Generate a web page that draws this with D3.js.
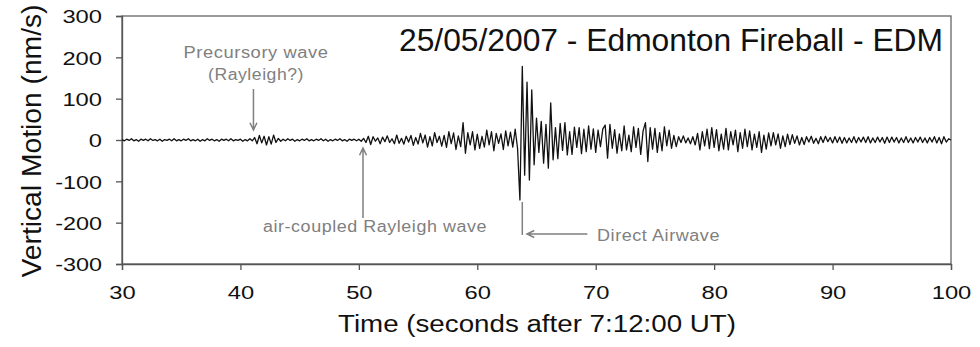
<!DOCTYPE html>
<html>
<head>
<meta charset="utf-8">
<script src="https://cdn.jsdelivr.net/npm/d3@7"></script>
<style>
  body { margin: 0; background: #fff; }
  svg { display: block; font-family: "Liberation Sans", Arial, sans-serif; }
  .note { fill: #808080; font-size: 16px; letter-spacing: 0.5px; }
</style>
</head>
<body>
<div class="chart"></div>
<script>
// seismogram sampled every 0.2 s from 30 s to 100 s (nm/s)
const timeStart = 30;
const timeStep = 0.2;
const motion = [
  1,-2,2,-1,3,-2,1,-3,2,-1,2,-2,3,-1,1,-2,2,-3,1,-1,2,-2,3,-2,1,
  -2,2,-1,3,-2,1,-2,2,-3,1,-2,3,-1,2,-2,1,-3,2,-1,2,-2,3,-2,1,-1,
  2,-3,1,-2,3,-2,6,-9,11,-7,9,-12,8,-10,12,-6,4,-3,2,-2,3,-1,2,-3,1,
  -2,2,-1,3,-2,1,-2,2,-1,3,-2,2,-3,1,-2,2,-1,3,-2,1,-3,2,-1,2,-2,
  2,-3,4,-6,9,-11,8,-3,5,-9,7,-4,10,-6,3,-9,12,-8,4,-10,9,-5,11,-13,6,
  -10,16,-7,12,-17,8,-14,18,-6,9,-15,11,-18,20,-9,17,-23,10,-16,42,-32,18,-12,20,-24,
  14,-20,9,-17,24,-12,20,-26,16,-8,15,-23,22,-14,19,-17,26,-20,-145,178,-85,140,-97,121,-60,
  53,-30,45,-56,38,-68,90,-48,30,-45,40,-25,42,-36,20,-35,31,-18,30,-33,26,-28,34,-22,27,
  -30,24,-16,27,36,-44,38,-20,25,-32,15,-26,34,-24,12,-28,32,-18,28,-35,22,42,-52,30,-22,
  28,-30,18,-26,32,-14,24,-20,11,-16,8,-6,10,-7,5,-9,8,-12,16,-24,20,-14,26,-21,30,
  -18,25,-26,14,-22,28,-24,20,-12,24,-28,18,-20,26,-16,22,-24,14,-18,20,-30,12,-22,17,-14,
  18,-12,15,-20,10,-16,14,-11,13,-8,10,-12,6,-11,8,-5,9,-8,4,-9,8,-6,9,-4,6,
  -7,8,-6,7,-8,6,-7,5,-6,8,-7,6,-5,7,-6,8,-7,5,-6,7,-5,6,-8,7,-6,
  7,-5,6,-7,5,-6,8,-6,5,-7,6,-5,7,-6,5,-7,6,-5,8,-7,6,-9,8,-5,3,
  0
];

const xTicks = [30, 40, 50, 60, 70, 80, 90, 100];
const yTicks = [-300, -200, -100, 0, 100, 200, 300];

const chartTitle = '25/05/2007 - Edmonton Fireball - EDM';
const xTitle = 'Time (seconds after 7:12:00 UT)';
const yTitle = 'Vertical Motion (nm/s)';

const width = 980, height = 347;
const margin = {top: 16, right: 29, bottom: 83, left: 122};

const svg = d3.select('.chart').append('svg')
  .attr('width', width)
  .attr('height', height);

const x = d3.scaleLinear()
  .domain([30, 100])
  .range([margin.left, width - margin.right]);

const y = d3.scaleLinear()
  .domain([-300, 300])
  .range([height - margin.bottom, margin.top]);

const data = motion.map((v, i) => ({t: timeStart + i * timeStep, v: v}));

// frame
svg.append('rect')
  .attr('x', x(30)).attr('y', y(300))
  .attr('width', x(100) - x(30)).attr('height', y(-300) - y(300))
  .attr('fill', 'none').attr('stroke', '#666').attr('stroke-width', 1.3);

// wide tick labels like the original picture
const labelLen = s => s.length * 13.2 - (s[0] === '-' ? 6 : 0);

const xAxis = svg.append('g')
  .attr('transform', `translate(0,${y(-300)})`)
  .call(d3.axisBottom(x).tickValues(xTicks).tickSize(6).tickPadding(16).tickFormat(d => String(d)));

const yAxis = svg.append('g')
  .attr('transform', `translate(${x(30)},0)`)
  .call(d3.axisLeft(y).tickValues(yTicks).tickSize(6).tickPadding(14).tickFormat(d => String(d)));

[xAxis, yAxis].forEach(a => {
  a.selectAll('path, line').attr('stroke', '#555').attr('stroke-width', 1.3);
  a.selectAll('text').attr('font-size', 19).attr('fill', '#111')
    .attr('font-family', '"Liberation Sans", Arial, sans-serif')
    .attr('textLength', function() { return labelLen(this.textContent); })
    .attr('lengthAdjust', 'spacingAndGlyphs');
});
yAxis.selectAll('text').attr('dy', '0.36em');

// waveform
const line = d3.line()
  .x(d => x(d.t))
  .y(d => y(d.v));

svg.append('path')
  .datum(data)
  .attr('fill', 'none')
  .attr('stroke', '#111')
  .attr('stroke-width', 1.3)
  .attr('stroke-linejoin', 'round')
  .attr('d', line);

// titles
svg.append('text')
  .attr('x', 943).attr('y', 51)
  .attr('text-anchor', 'end')
  .attr('font-size', 31).attr('fill', '#111')
  .attr('textLength', 544).attr('lengthAdjust', 'spacingAndGlyphs')
  .text(chartTitle);

svg.append('text')
  .attr('x', 537).attr('y', 332)
  .attr('text-anchor', 'middle')
  .attr('font-size', 23).attr('fill', '#111')
  .attr('textLength', 398).attr('lengthAdjust', 'spacingAndGlyphs')
  .text(xTitle);

svg.append('text')
  .attr('transform', `translate(41,141) rotate(-90)`)
  .attr('text-anchor', 'middle')
  .attr('font-size', 27).attr('fill', '#111')
  .attr('textLength', 273).attr('lengthAdjust', 'spacingAndGlyphs')
  .text(yTitle);

// annotations
const noteColor = '#808080';
const notes = svg.append('g');

const note = (txt, cx, cy, len, anchor) => notes.append('text').attr('class', 'note')
  .attr('x', cx).attr('y', cy).attr('text-anchor', anchor)
  .attr('textLength', len).attr('lengthAdjust', 'spacingAndGlyphs')
  .text(txt);

note('Precursory wave', 256, 58, 145, 'middle');
note('(Rayleigh?)', 256, 80, 96, 'middle');
note('air-coupled Rayleigh wave', 263, 232, 224, 'start');
note('Direct Airwave', 597, 241, 123, 'start');

const arrow = (x1, y1, x2, y2) => {
  const a = Math.atan2(y2 - y1, x2 - x1), h = 8, s = 0.45;
  notes.append('path')
    .attr('d', `M${x1},${y1}L${x2},${y2}` +
      `M${x2 - h * Math.cos(a - s)},${y2 - h * Math.sin(a - s)}L${x2},${y2}` +
      `L${x2 - h * Math.cos(a + s)},${y2 - h * Math.sin(a + s)}`)
    .attr('fill', 'none').attr('stroke', noteColor).attr('stroke-width', 1.5);
};

arrow(x(41.1), 89, x(41.1), 130);
arrow(x(50.35), 218, x(50.35), 148);
arrow(x(69.3), 234, x(64.2), 234);
notes.append('line')
  .attr('x1', x(63.8)).attr('x2', x(63.8))
  .attr('y1', y(-150)).attr('y2', 235)
  .attr('stroke', noteColor).attr('stroke-width', 1.5);
</script>
</body>
</html>
